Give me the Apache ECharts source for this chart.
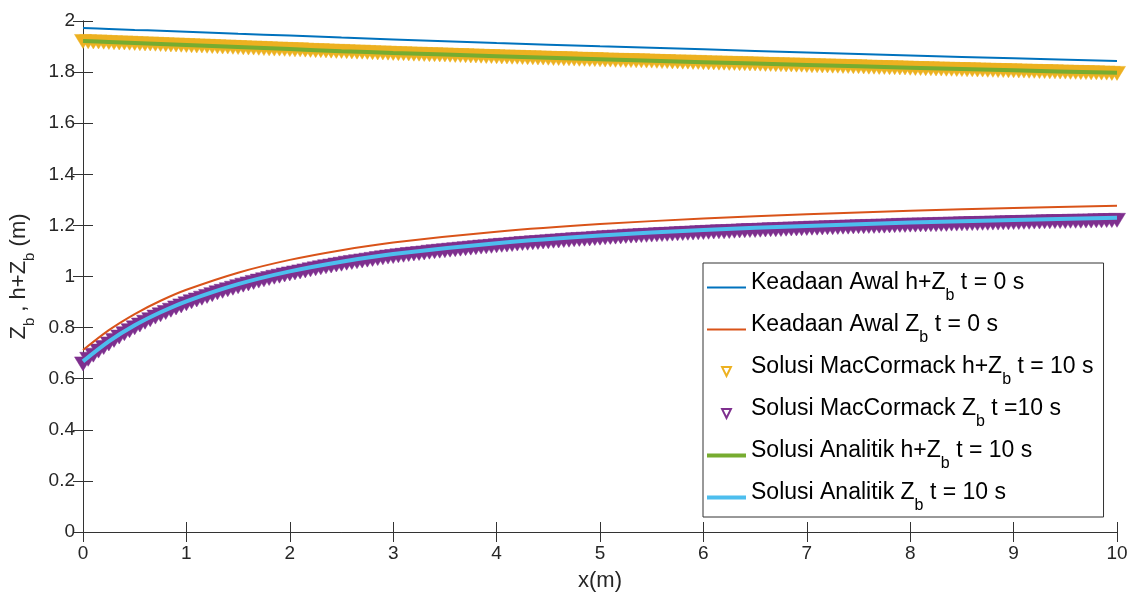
<!DOCTYPE html>
<html>
<head>
<meta charset="utf-8">
<script src="https://cdn.jsdelivr.net/npm/echarts@6/dist/echarts.min.js"></script>
<style>
  html, body { margin: 0; padding: 0; background: #fff; }
  #main { width: 1132px; height: 595px; }
</style>
</head>
<body>
<div id="main"></div>
<script>
// legend / series names, "_b" marks the subscript
var names = [
  'Keadaan Awal h+Z_b t = 0 s',
  'Keadaan Awal Z_b t = 0 s',
  'Solusi MacCormack h+Z_b t = 10 s',
  'Solusi MacCormack Z_b t =10 s',
  'Solusi Analitik h+Z_b t = 10 s',
  'Solusi Analitik Z_b t = 10 s'
];

var xTicks = [0, 1, 2, 3, 4, 5, 6, 7, 8, 9, 10];
var yTicks = [0, 0.2, 0.4, 0.6, 0.8, 1, 1.2, 1.4, 1.6, 1.8, 2];

// x positions of the continuous curves
var xLine = [0, 0.25, 0.5, 0.75, 1, 1.5, 2, 2.5, 3, 4, 5, 6, 7, 8, 9, 10];
var awalHZb = [1.973, 1.969, 1.965, 1.962, 1.958, 1.950, 1.943, 1.935, 1.928, 1.914, 1.901, 1.889, 1.877, 1.865, 1.854, 1.843];
var awalZb = [0.712, 0.790, 0.853, 0.905, 0.948, 1.015, 1.065, 1.103, 1.133, 1.175, 1.205, 1.227, 1.244, 1.257, 1.268, 1.277];
var analitikHZb = [1.922, 1.918, 1.914, 1.910, 1.906, 1.898, 1.890, 1.882, 1.875, 1.862, 1.850, 1.839, 1.828, 1.817, 1.807, 1.797];
var analitikZb = [0.668, 0.746, 0.809, 0.860, 0.903, 0.970, 1.020, 1.058, 1.088, 1.130, 1.160, 1.182, 1.198, 1.211, 1.221, 1.230];

// x positions of the MacCormack markers (dx = 0.05)
var xMark = [
  0, 0.05, 0.1, 0.15, 0.2, 0.25, 0.3, 0.35, 0.4, 0.45, 0.5, 0.55, 0.6, 0.65, 0.7, 0.75, 0.8, 0.85, 0.9, 0.95,
  1, 1.05, 1.1, 1.15, 1.2, 1.25, 1.3, 1.35, 1.4, 1.45, 1.5, 1.55, 1.6, 1.65, 1.7, 1.75, 1.8, 1.85, 1.9, 1.95,
  2, 2.05, 2.1, 2.15, 2.2, 2.25, 2.3, 2.35, 2.4, 2.45, 2.5, 2.55, 2.6, 2.65, 2.7, 2.75, 2.8, 2.85, 2.9, 2.95,
  3, 3.05, 3.1, 3.15, 3.2, 3.25, 3.3, 3.35, 3.4, 3.45, 3.5, 3.55, 3.6, 3.65, 3.7, 3.75, 3.8, 3.85, 3.9, 3.95,
  4, 4.05, 4.1, 4.15, 4.2, 4.25, 4.3, 4.35, 4.4, 4.45, 4.5, 4.55, 4.6, 4.65, 4.7, 4.75, 4.8, 4.85, 4.9, 4.95,
  5, 5.05, 5.1, 5.15, 5.2, 5.25, 5.3, 5.35, 5.4, 5.45, 5.5, 5.55, 5.6, 5.65, 5.7, 5.75, 5.8, 5.85, 5.9, 5.95,
  6, 6.05, 6.1, 6.15, 6.2, 6.25, 6.3, 6.35, 6.4, 6.45, 6.5, 6.55, 6.6, 6.65, 6.7, 6.75, 6.8, 6.85, 6.9, 6.95,
  7, 7.05, 7.1, 7.15, 7.2, 7.25, 7.3, 7.35, 7.4, 7.45, 7.5, 7.55, 7.6, 7.65, 7.7, 7.75, 7.8, 7.85, 7.9, 7.95,
  8, 8.05, 8.1, 8.15, 8.2, 8.25, 8.3, 8.35, 8.4, 8.45, 8.5, 8.55, 8.6, 8.65, 8.7, 8.75, 8.8, 8.85, 8.9, 8.95,
  9, 9.05, 9.1, 9.15, 9.2, 9.25, 9.3, 9.35, 9.4, 9.45, 9.5, 9.55, 9.6, 9.65, 9.7, 9.75, 9.8, 9.85, 9.9, 9.95,
  10
];
var macHZb = [
  1.920, 1.919, 1.918, 1.918, 1.917, 1.916, 1.915, 1.914, 1.914, 1.913, 1.912, 1.911, 1.910, 1.910, 1.909, 1.908, 1.907, 1.906, 1.906, 1.905,
  1.904, 1.903, 1.902, 1.902, 1.901, 1.900, 1.899, 1.898, 1.898, 1.897, 1.896, 1.895, 1.894, 1.894, 1.893, 1.892, 1.891, 1.890, 1.890, 1.889,
  1.888, 1.887, 1.887, 1.886, 1.885, 1.884, 1.884, 1.883, 1.882, 1.881, 1.881, 1.880, 1.879, 1.878, 1.878, 1.877, 1.876, 1.875, 1.875, 1.874,
  1.873, 1.872, 1.872, 1.871, 1.870, 1.870, 1.869, 1.868, 1.868, 1.867, 1.867, 1.866, 1.865, 1.865, 1.864, 1.863, 1.863, 1.862, 1.861, 1.861,
  1.860, 1.859, 1.859, 1.858, 1.858, 1.857, 1.856, 1.856, 1.855, 1.855, 1.854, 1.853, 1.853, 1.852, 1.852, 1.851, 1.850, 1.850, 1.849, 1.849,
  1.848, 1.847, 1.847, 1.846, 1.846, 1.845, 1.845, 1.844, 1.844, 1.843, 1.843, 1.842, 1.841, 1.841, 1.840, 1.840, 1.839, 1.839, 1.838, 1.838,
  1.837, 1.836, 1.836, 1.835, 1.835, 1.834, 1.834, 1.833, 1.833, 1.832, 1.832, 1.831, 1.830, 1.830, 1.829, 1.829, 1.828, 1.828, 1.827, 1.827,
  1.826, 1.825, 1.825, 1.824, 1.824, 1.823, 1.823, 1.822, 1.822, 1.821, 1.821, 1.820, 1.819, 1.819, 1.818, 1.818, 1.817, 1.817, 1.816, 1.816,
  1.815, 1.814, 1.814, 1.813, 1.813, 1.812, 1.812, 1.811, 1.811, 1.810, 1.810, 1.809, 1.809, 1.808, 1.808, 1.807, 1.807, 1.806, 1.806, 1.805,
  1.805, 1.804, 1.804, 1.803, 1.803, 1.802, 1.802, 1.801, 1.801, 1.800, 1.800, 1.799, 1.799, 1.798, 1.798, 1.797, 1.797, 1.796, 1.796, 1.795,
  1.795
];
var macZb = [
  0.658, 0.676, 0.692, 0.708, 0.722, 0.736, 0.750, 0.763, 0.776, 0.788, 0.799, 0.810, 0.821, 0.831, 0.841, 0.850, 0.859, 0.868, 0.877, 0.885,
  0.893, 0.901, 0.908, 0.915, 0.922, 0.929, 0.936, 0.942, 0.948, 0.954, 0.960, 0.966, 0.971, 0.977, 0.982, 0.987, 0.992, 0.997, 1.001, 1.006,
  1.010, 1.014, 1.018, 1.022, 1.026, 1.030, 1.034, 1.038, 1.041, 1.045, 1.048, 1.052, 1.055, 1.058, 1.061, 1.064, 1.067, 1.070, 1.073, 1.076,
  1.078, 1.081, 1.083, 1.086, 1.088, 1.090, 1.092, 1.095, 1.097, 1.099, 1.101, 1.103, 1.105, 1.107, 1.109, 1.111, 1.113, 1.115, 1.116, 1.118,
  1.120, 1.122, 1.123, 1.125, 1.127, 1.129, 1.130, 1.132, 1.133, 1.135, 1.136, 1.138, 1.139, 1.141, 1.142, 1.144, 1.145, 1.146, 1.147, 1.149,
  1.150, 1.152, 1.153, 1.154, 1.155, 1.157, 1.158, 1.159, 1.160, 1.161, 1.162, 1.163, 1.164, 1.165, 1.166, 1.167, 1.168, 1.169, 1.170, 1.171,
  1.172, 1.173, 1.174, 1.175, 1.175, 1.176, 1.177, 1.178, 1.179, 1.180, 1.180, 1.181, 1.182, 1.183, 1.183, 1.184, 1.185, 1.186, 1.186, 1.187,
  1.188, 1.189, 1.189, 1.190, 1.191, 1.191, 1.192, 1.193, 1.193, 1.194, 1.195, 1.195, 1.196, 1.196, 1.197, 1.197, 1.198, 1.199, 1.200, 1.200,
  1.201, 1.201, 1.202, 1.202, 1.203, 1.203, 1.204, 1.204, 1.205, 1.205, 1.206, 1.206, 1.207, 1.207, 1.208, 1.208, 1.209, 1.209, 1.210, 1.210,
  1.211, 1.211, 1.212, 1.212, 1.213, 1.213, 1.214, 1.214, 1.215, 1.215, 1.215, 1.216, 1.216, 1.216, 1.217, 1.217, 1.218, 1.218, 1.219, 1.219,
  1.220
];

var colors = ['#0072BD', '#D95319', '#EDB120', '#7E2F8E', '#77AC30', '#4DBEEE'];
var axisColor = '#333333';
var fontFamily = '"Liberation Sans", Arial, Helvetica, sans-serif';
var downTri = 'path://M0,0L14,0L7,12Z';

function pairs(xs, ys) {
  return xs.map(function (x, i) { return [x, ys[i]]; });
}

// "h+Z_b t" -> rich text with a lowered "b"
function subText(s) {
  var p = s.split('_b');
  return '{n|' + p[0] + '}{s|b}{n|' + p[1] + '}';
}

var chart = echarts.init(document.getElementById('main'), null, { renderer: 'canvas' });

function lineSeries(i, ys, width) {
  return {
    name: names[i],
    type: 'line',
    z: 3,
    data: pairs(xLine, ys),
    smooth: 0.3,
    symbol: 'none',
    clip: false,
    lineStyle: { color: colors[i], width: width },
    itemStyle: { color: colors[i] }
  };
}

function markSeries(i, ys) {
  return {
    name: names[i],
    type: 'line',
    z: 2,
    data: pairs(xMark, ys),
    symbol: downTri,
    symbolSize: [17, 14],
    showSymbol: true,
    showAllSymbol: true,
    clip: false,
    lineStyle: { width: 0 },
    itemStyle: { color: colors[i], borderColor: colors[i], borderWidth: 0.5 }
  };
}

var axisBase = {
  axisLine: { show: true, lineStyle: { color: axisColor, width: 1 } },
  axisTick: { show: true, inside: true, length: 10, lineStyle: { color: axisColor } },
  splitLine: { show: false }
};

var option = {
  animation: false,
  textStyle: { fontFamily: fontFamily },
  grid: { left: 83, right: 15, top: 21, bottom: 63, outerBoundsMode: 'none', containLabel: false },
  xAxis: [Object.assign({
    type: 'value',
    min: xTicks[0], max: xTicks[xTicks.length - 1], interval: 1,
    name: 'x(m)',
    nameLocation: 'middle',
    nameGap: 38,
    nameTextStyle: { fontSize: 22, color: '#262626', fontFamily: fontFamily },
    axisLabel: { fontSize: 19, color: '#262626', margin: 12, fontFamily: fontFamily }
  }, axisBase), Object.assign({
    type: 'value', position: 'top',
    min: xTicks[0], max: xTicks[xTicks.length - 1], interval: 1,
    axisLabel: { show: false }
  }, axisBase)],
  yAxis: [Object.assign({
    type: 'value',
    min: yTicks[0], max: yTicks[yTicks.length - 1], interval: 0.2,
    name: '{n|Z}{s|b}{n| , h+Z}{s|b}{n| (m)}',
    nameLocation: 'middle',
    nameGap: 48,
    nameTextStyle: {
      color: '#262626',
      rich: {
        n: { fontSize: 22, lineHeight: 26, fontFamily: fontFamily, color: '#262626' },
        s: { fontSize: 15, lineHeight: 26, padding: [22, 0, 0, 0], fontFamily: fontFamily, color: '#262626' }
      }
    },
    axisLabel: { fontSize: 19, color: '#262626', margin: 8, fontFamily: fontFamily }
  }, axisBase), Object.assign({
    type: 'value', position: 'right',
    min: yTicks[0], max: yTicks[yTicks.length - 1], interval: 0.2,
    axisLabel: { show: false }
  }, axisBase)],
  legend: {
    orient: 'vertical',
    left: 703,
    top: 263,
    itemWidth: 39,
    itemHeight: 11,
    itemGap: 9,
    padding: [8, 10, 3, 2],
    backgroundColor: '#ffffff',
    borderColor: axisColor,
    borderWidth: 1,
    borderRadius: 0,
    data: [
      { name: names[0], itemStyle: { opacity: 0 }, lineStyle: { width: 2 } },
      { name: names[1], itemStyle: { opacity: 0 }, lineStyle: { width: 2 } },
      { name: names[2], itemStyle: { color: '#ffffff', borderColor: colors[2], borderWidth: 2 } },
      { name: names[3], itemStyle: { color: '#ffffff', borderColor: colors[3], borderWidth: 2 } },
      { name: names[4], itemStyle: { opacity: 0 }, lineStyle: { width: 4 } },
      { name: names[5], itemStyle: { opacity: 0 }, lineStyle: { width: 4 } }
    ],
    formatter: function (name) { return subText(name); },
    textStyle: {
      color: '#000000',
      rich: {
        n: { fontSize: 23, verticalAlign: 'top', fontFamily: fontFamily, color: '#000000' },
        s: { fontSize: 16, verticalAlign: 'top', padding: [17, 0, 0, 0], fontFamily: fontFamily, color: '#000000' }
      }
    }
  },
  series: [
    lineSeries(0, awalHZb, 2),
    lineSeries(1, awalZb, 2),
    markSeries(2, macHZb),
    markSeries(3, macZb),
    lineSeries(4, analitikHZb, 4),
    lineSeries(5, analitikZb, 4)
  ]
};

chart.setOption(option);
</script>
</body>
</html>
